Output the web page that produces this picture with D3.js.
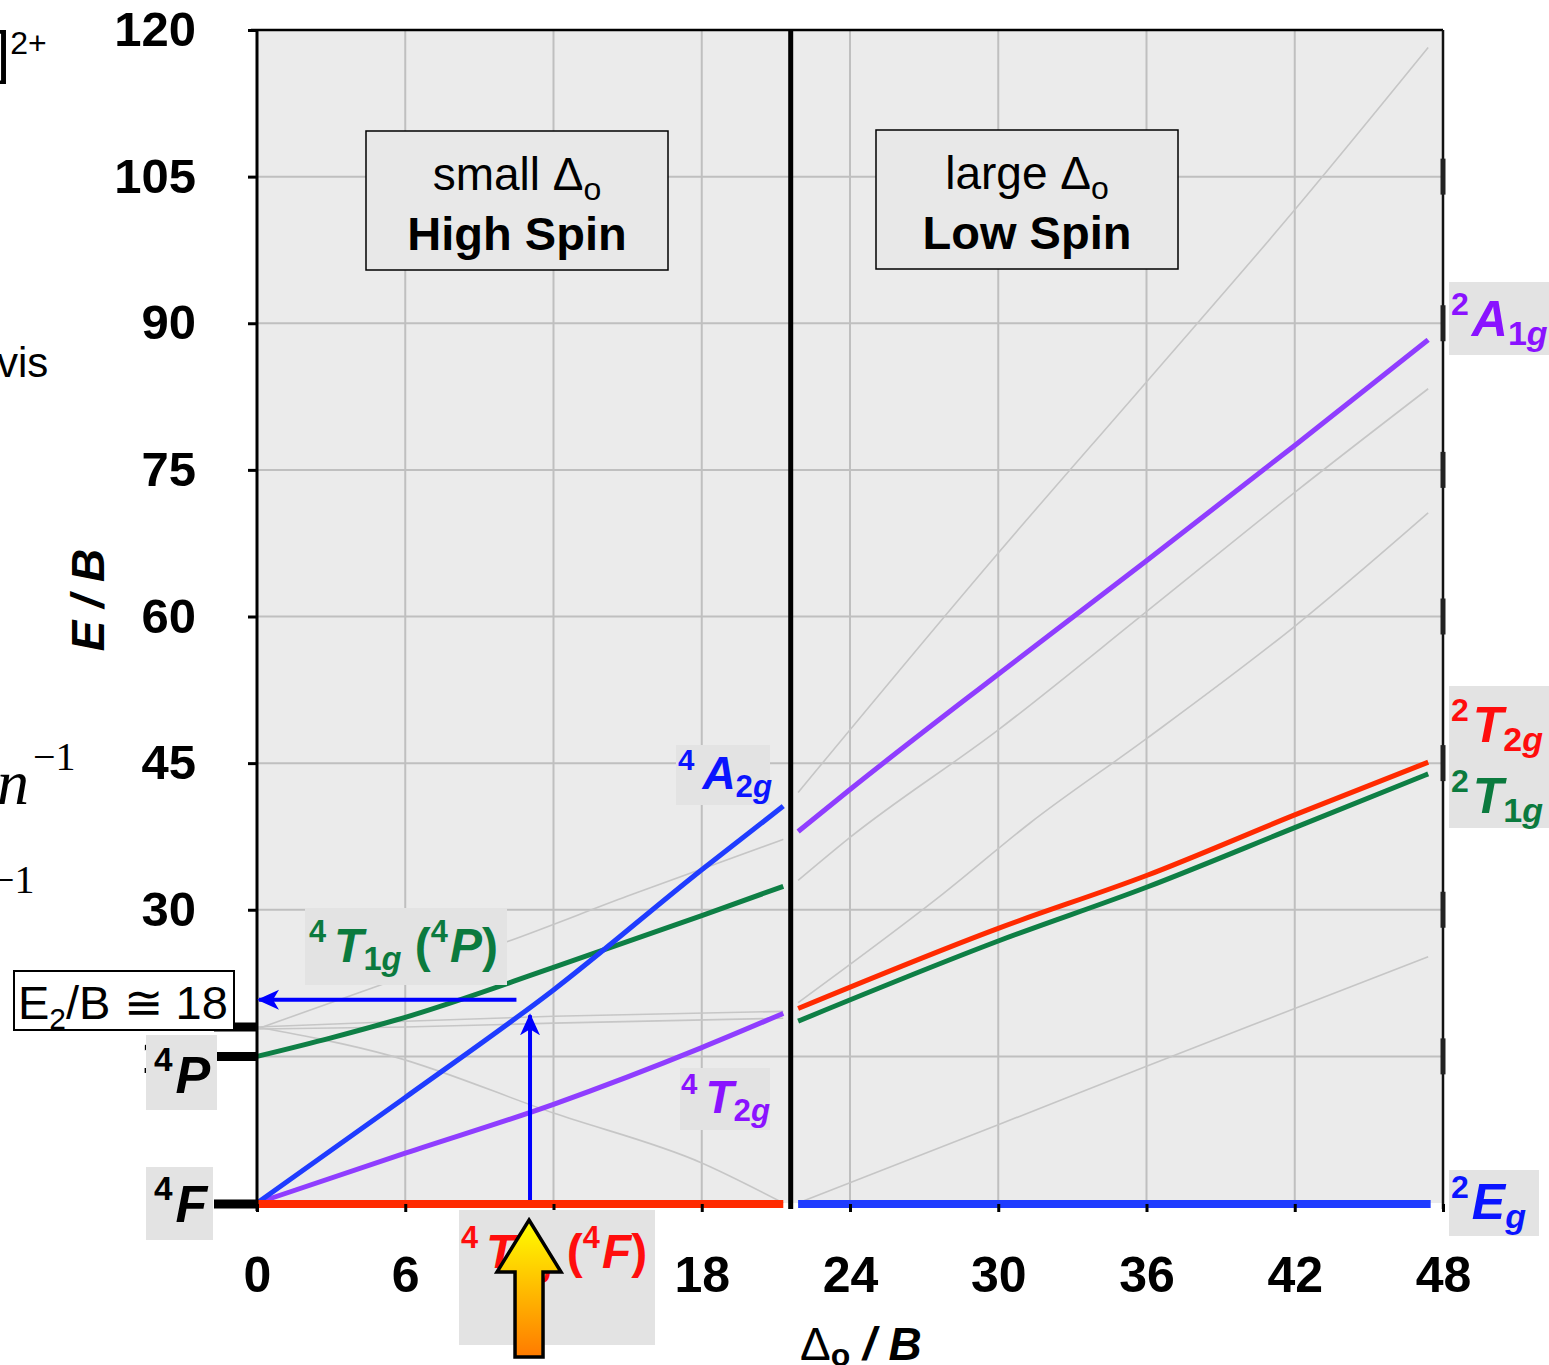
<!DOCTYPE html>
<html>
<head>
<meta charset="utf-8">
<script src="https://cdn.jsdelivr.net/npm/d3@7"></script>
<style>
html, body { margin: 0; padding: 0; background: #fff; }
svg { display: block; }
</style>
</head>
<body>
<div id="chart"></div>
<script>
// axes
var xTicks = [0, 6, 12, 18, 24, 30, 36, 42, 48];
var yTicks = [0, 15, 30, 45, 60, 75, 90, 105, 120];
var crossover = 21.6;

// high spin states (Δo/B, E/B)
var s4T1gF = [[0, 0], [21.3, 0]];
var s4T2g = [[0, 0], [6, 5.1], [12, 10.1], [18, 15.9], [21.3, 19.4]];
var s4A2g = [[0, 0], [6, 10.8], [12, 21.8], [18, 34.1], [21.3, 40.6]];
var s4T1gP = [[0, 15], [3, 16.9], [6, 19], [12, 24.1], [18, 29.4], [21.3, 32.4]];

// low spin states
var s2Eg = [[21.9, 0], [47.5, 0]];
var s2T1g = [[21.9, 18.6], [30, 26.8], [36, 32.3], [42, 38.4], [47.4, 43.9]];
var s2T2g = [[21.9, 19.9], [30, 28.1], [36, 33.5], [42, 39.7], [47.4, 45.1]];
var s2A1g = [[21.9, 38], [24, 42.3], [30, 54.1], [36, 65.7], [42, 77.5], [47.4, 88.3]];

// other states, drawn grey
var greyStates = [
	[[0, 18], [5.5, 15], [12, 9.2], [18, 4.1], [21.3, 0]],
	[[0, 18], [6, 18.6], [12, 19.1], [21.3, 19.6]],
	[[0, 17.8], [6, 18], [12, 18.4], [21.3, 18.9]],
	[[0, 17.8], [5, 22.3], [10.2, 26.8], [15, 31.4], [21.3, 37.2]],
	[[21.9, 0], [30, 8], [36, 14], [42, 19.9], [47.4, 25.2]],
	[[21.9, 20.5], [27.8, 31.7], [31.3, 38.9], [36, 47.5], [42, 59], [47.4, 70.6]],
	[[21.9, 33], [24, 37.4], [30, 48.4], [36, 60.5], [42, 72.7], [47.4, 83.3]],
	[[21.9, 42], [30, 66.5], [36, 84], [42, 101.6], [47.4, 118.2]]
];

// free ion levels at Δo = 0
var ionLevels = [0, 15, 18];

// transition arrows
var excite = { at: 11.05, from: 0, to: 19.2 };
var readOff = { at: 20.8, from: 10.5, to: 0 };

var sans = 'Liberation Sans, Arial, Helvetica, sans-serif';
var serif = 'Liberation Serif, Times New Roman, serif';
var cBlue = '#1f3cff', cGreen = '#0e7f45', cPurple = '#8f3dff', cRed = '#ff2a00';
var tBlue = '#0a14ff', tGreen = '#0b7a3e', tPurple = '#8a12ff', tRed = '#ff0d0d';

var svg = d3.select('#chart').append('svg')
	.attr('width', 1549)
	.attr('height', 1365);

var x = d3.scaleLinear().domain([0, 48]).range([257, 1443]);
var y = d3.scaleLinear().domain([0, 120]).range([1203, 30]);

var defs = svg.append('defs');
defs.append('marker')
	.attr('id', 'head')
	.attr('viewBox', '0 0 22 22')
	.attr('refX', 20).attr('refY', 11)
	.attr('markerWidth', 22).attr('markerHeight', 22)
	.attr('markerUnits', 'userSpaceOnUse')
	.attr('orient', 'auto')
	.append('path')
	.attr('d', 'M0,1 L22,11 L0,21 L6,11 Z')
	.attr('fill', '#0000ff');

var grad = defs.append('linearGradient')
	.attr('id', 'fire').attr('x1', 0).attr('y1', 0).attr('x2', 0).attr('y2', 1);
grad.append('stop').attr('offset', '0%').attr('stop-color', '#ffff00');
grad.append('stop').attr('offset', '100%').attr('stop-color', '#ff7a00');

// plot background and grid
svg.append('rect')
	.attr('x', x(0)).attr('y', y(120))
	.attr('width', x(48) - x(0)).attr('height', y(0) - y(120))
	.attr('fill', '#ebebeb');

svg.append('g').selectAll('line')
	.data(yTicks.filter(v => v > 0 && v < 120))
	.enter().append('line')
	.attr('x1', x(0)).attr('x2', x(48))
	.attr('y1', d => y(d)).attr('y2', d => y(d))
	.attr('stroke', '#bfbfbf').attr('stroke-width', 2);

svg.append('g').selectAll('line')
	.data(xTicks.filter(v => v > 0 && v < 48))
	.enter().append('line')
	.attr('x1', d => x(d)).attr('x2', d => x(d))
	.attr('y1', y(120)).attr('y2', y(0))
	.attr('stroke', '#bfbfbf').attr('stroke-width', 2);

var line = d3.line()
	.x(d => x(d[0]))
	.y(d => y(d[1]))
	.curve(d3.curveMonotoneX);

svg.append('g').selectAll('path')
	.data(greyStates)
	.enter().append('path')
	.attr('d', line)
	.attr('fill', 'none')
	.attr('stroke', '#c6c6c6')
	.attr('stroke-width', 1.6);

var states = [
	{ pts: s4T1gP, color: cGreen, w: 5 },
	{ pts: s4T2g, color: cPurple, w: 5 },
	{ pts: s4A2g, color: cBlue, w: 5 },
	{ pts: s2A1g, color: cPurple, w: 5 },
	{ pts: s2T1g, color: cGreen, w: 5 },
	{ pts: s2T2g, color: cRed, w: 5 },
	{ pts: s4T1gF, color: cRed, w: 8 },
	{ pts: s2Eg, color: cBlue, w: 8 }
];

svg.append('g').selectAll('path')
	.data(states)
	.enter().append('path')
	.attr('d', d => line(d.pts))
	.attr('fill', 'none')
	.attr('stroke', d => d.color)
	.attr('stroke-width', d => d.w)
	.attr('transform', d => d.w > 6 ? 'translate(0,1)' : null);

// frame
svg.append('line')
	.attr('x1', x(0) - 6).attr('x2', x(48))
	.attr('y1', y(120)).attr('y2', y(120))
	.attr('stroke', '#000').attr('stroke-width', 2.5);
svg.append('line')
	.attr('x1', x(48)).attr('x2', x(48))
	.attr('y1', y(120)).attr('y2', y(0) + 6)
	.attr('stroke', '#111').attr('stroke-width', 2.5);
svg.append('g').selectAll('line')
	.data(yTicks.filter(v => v > 0 && v < 120))
	.enter().append('line')
	.attr('x1', x(48)).attr('x2', x(48))
	.attr('y1', d => y(d) - 18).attr('y2', d => y(d) + 18)
	.attr('stroke', '#222').attr('stroke-width', 5);

// high / low spin divide
svg.append('line')
	.attr('x1', x(crossover)).attr('x2', x(crossover))
	.attr('y1', y(120)).attr('y2', y(0) + 6)
	.attr('stroke', '#000').attr('stroke-width', 5);

// axes
var yAxis = d3.axisLeft(y)
	.tickValues(yTicks.filter(v => v > 0))
	.tickSize(9)
	.tickPadding(52);

var gy = svg.append('g')
	.attr('transform', 'translate(' + x(0) + ',0)')
	.call(yAxis);
gy.select('.domain').attr('stroke', '#000').attr('stroke-width', 3)
	.attr('d', 'M0,' + y(120) + 'V' + (y(0) + 8));
gy.selectAll('.tick line').attr('stroke', '#000').attr('stroke-width', 3);
gy.selectAll('.tick text')
	.style('font-family', sans).style('font-weight', 'bold').style('font-size', '49px')
	.attr('fill', '#000');

var xAxis = d3.axisBottom(x)
	.tickValues(xTicks)
	.tickSize(8)
	.tickPadding(44);

var gx = svg.append('g')
	.attr('transform', 'translate(0,' + (y(0) + 1) + ')')
	.call(xAxis);
gx.select('.domain').remove();
gx.selectAll('.tick line').attr('stroke', '#000').attr('stroke-width', 3);
gx.selectAll('.tick text')
	.style('font-family', sans).style('font-weight', 'bold').style('font-size', '50px')
	.attr('fill', '#000');

// free ion level bars
svg.append('g').selectAll('line')
	.data(ionLevels)
	.enter().append('line')
	.attr('x1', 214).attr('x2', x(0))
	.attr('y1', d => y(d) + (d === 0 ? 1 : 0)).attr('y2', d => y(d) + (d === 0 ? 1 : 0))
	.attr('stroke', '#000').attr('stroke-width', 9);

// axis titles
svg.append('text')
	.attr('transform', 'translate(104,600) rotate(-90)')
	.attr('text-anchor', 'middle')
	.style('font-family', sans).style('font-weight', 'bold').style('font-style', 'italic')
	.style('font-size', '46px')
	.text('E / B');

var xt = svg.append('text')
	.attr('x', 800).attr('y', 1360)
	.style('font-family', sans).style('font-size', '46px');
xt.append('tspan').text('Δ');
xt.append('tspan').attr('dy', 6).style('font-size', '32px').style('font-weight', 'bold').text('o');
xt.append('tspan').attr('dy', -6).style('font-weight', 'bold').style('font-style', 'italic').text(' / B');

// label boxes sit under the label texts
var boxes = svg.append('g');
var labels = svg.append('g');

function box(px, py, w, h) {
	boxes.append('rect')
		.attr('x', px).attr('y', py).attr('width', w).attr('height', h)
		.attr('fill', '#e3e3e3');
}

// rich label helper: parts are [text, kind]
// kinds: sup, it (italic), up (upright), sub (upright, lowered), subi (italic, lowered)
function rich(px, py, parts, color, size) {
	var t = labels.append('text')
		.attr('x', px).attr('y', py)
		.attr('fill', color)
		.style('font-family', sans)
		.style('font-weight', 'bold');
	var prev = 0, prevKind = null;
	parts.forEach(function (p) {
		var kind = p[1];
		var low = kind === 'sub' || kind === 'subi';
		var off = kind === 'sup' ? -0.42 * size : low ? 0.17 * size : 0;
		var fs = kind === 'sup' ? 0.64 * size : low ? 0.68 * size : size;
		var ts = t.append('tspan')
			.attr('dy', off - prev)
			.style('font-size', fs + 'px')
			.style('font-style', kind === 'it' || kind === 'subi' ? 'italic' : 'normal')
			.text(p[0]);
		if (prevKind === 'sup') ts.attr('dx', p[2] || 4);
		prev = off;
		prevKind = kind;
	});
	return t;
}

box(676, 745, 94, 60);
rich(678, 789, [['4', 'sup'], ['A', 'it', 8], ['2', 'sub'], ['g', 'subi']], tBlue, 46);

box(305, 908, 202, 77);
rich(309, 962, [['4', 'sup'], ['T', 'it', 8], ['1', 'sub'], ['g', 'subi'], [' (', 'up'], ['4', 'sup'], ['P', 'it', 2], [')', 'up']], tGreen, 48);

box(680, 1068, 90, 62);
rich(681, 1113, [['4', 'sup'], ['T', 'it', 8], ['2', 'sub'], ['g', 'subi']], tPurple, 46);

box(459, 1210, 196, 135);
rich(461, 1268, [['4', 'sup'], ['T', 'it', 8], ['1', 'sub'], ['g', 'subi'], [' (', 'up'], ['4', 'sup'], ['F', 'it', 2], [')', 'up']], tRed, 48);

box(1449, 282, 100, 73);
rich(1451, 336, [['2', 'sup'], ['A', 'it', 3], ['1', 'sub'], ['g', 'subi']], tPurple, 50);

box(1449, 686, 100, 142);
rich(1451, 742, [['2', 'sup'], ['T', 'it', 4], ['2', 'sub'], ['g', 'subi']], tRed, 50);
rich(1451, 813, [['2', 'sup'], ['T', 'it', 4], ['1', 'sub'], ['g', 'subi']], tGreen, 50);

box(1449, 1170, 90, 66);
rich(1451, 1219, [['2', 'sup'], ['E', 'it', 3], ['g', 'subi']], tBlue, 50);

box(146, 1035, 71, 75);
rich(154, 1093, [['4', 'sup'], ['P', 'it', 3]], '#000', 52);

box(146, 1167, 67, 73);
rich(154, 1222, [['4', 'sup'], ['F', 'it', 3]], '#000', 52);

// spin regime boxes
var regimes = [
	{ x0: 366, y0: 131, top: 'small Δ', bottom: 'High Spin' },
	{ x0: 876, y0: 130, top: 'large Δ', bottom: 'Low Spin' }
];
regimes.forEach(function (r) {
	svg.append('rect')
		.attr('x', r.x0).attr('y', r.y0).attr('width', 302).attr('height', 139)
		.attr('fill', '#e8e8e8').attr('stroke', '#000').attr('stroke-width', 1.5);
	var t1 = svg.append('text')
		.attr('x', r.x0 + 151).attr('y', r.y0 + 59)
		.attr('text-anchor', 'middle')
		.style('font-family', sans).style('font-size', '46px');
	t1.append('tspan').text(r.top);
	t1.append('tspan').attr('dy', 10).style('font-size', '32px').text('o');
	svg.append('text')
		.attr('x', r.x0 + 151).attr('y', r.y0 + 119)
		.attr('text-anchor', 'middle')
		.style('font-family', sans).style('font-size', '47px').style('font-weight', 'bold')
		.text(r.bottom);
});

// transition arrows
svg.append('line')
	.attr('x1', x(excite.at)).attr('x2', x(excite.at))
	.attr('y1', y(excite.from) - 3).attr('y2', y(excite.to))
	.attr('stroke', '#0000ff').attr('stroke-width', 4)
	.attr('marker-end', 'url(#head)');
svg.append('line')
	.attr('x1', x(readOff.from)).attr('x2', x(readOff.to) + 2)
	.attr('y1', y(readOff.at)).attr('y2', y(readOff.at))
	.attr('stroke', '#0000ff').attr('stroke-width', 4)
	.attr('marker-end', 'url(#head)');

// E2/B box
svg.append('rect')
	.attr('x', 14).attr('y', 971).attr('width', 220).attr('height', 59)
	.attr('fill', '#fff').attr('stroke', '#000').attr('stroke-width', 2);
var et = svg.append('text')
	.attr('x', 18).attr('y', 1019)
	.style('font-family', sans).style('font-size', '47px');
et.append('tspan').text('E');
et.append('tspan').attr('dy', 10).style('font-size', '30px').text('2');
et.append('tspan').attr('dy', -10).text('/B ≅ 18');

// yellow excitation arrow
var ax = x(excite.at) - 1;
var arrowPts = [
	[ax, 1220], [ax + 32, 1272], [ax + 14, 1272], [ax + 14, 1357],
	[ax - 14, 1357], [ax - 14, 1272], [ax - 32, 1272]
];
svg.append('path')
	.attr('d', d3.line()(arrowPts) + 'Z')
	.attr('fill', 'url(#fire)')
	.attr('stroke', '#000').attr('stroke-width', 3.5)
	.attr('stroke-linejoin', 'miter');

// text cut off at the left edge of the slide
var c1 = svg.append('text').attr('x', -6).attr('y', 72)
	.style('font-family', sans).style('font-size', '58px');
c1.append('tspan').text(']');
c1.append('tspan').attr('dy', -18).style('font-size', '32px').text('2+');

svg.append('text').attr('x', -3).attr('y', 377)
	.style('font-family', sans).style('font-size', '42px')
	.text('vis');

var c3 = svg.append('text').attr('x', -3).attr('y', 804)
	.style('font-family', serif).style('font-style', 'italic').style('font-size', '64px');
c3.append('tspan').text('n');
c3.append('tspan').attr('dy', -34).attr('dx', 4).style('font-style', 'normal').style('font-size', '40px').text('−1');

svg.append('text').attr('x', -8).attr('y', 893)
	.style('font-family', serif).style('font-size', '40px')
	.text('−1');
</script>
</body>
</html>
